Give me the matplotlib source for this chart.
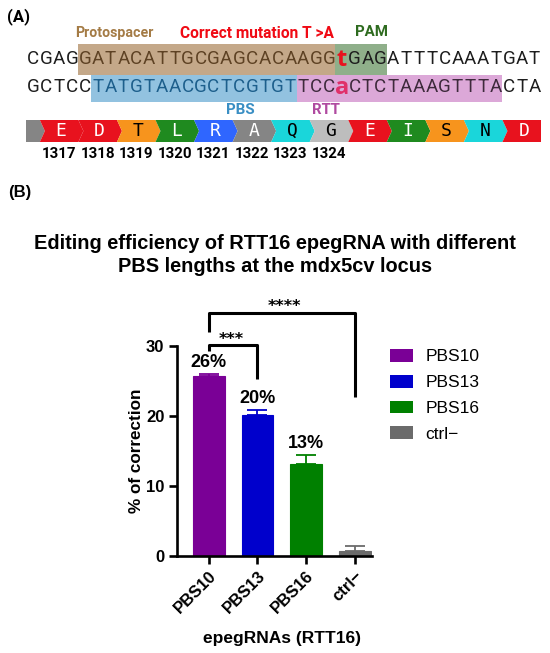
import matplotlib
matplotlib.use("Agg")
import matplotlib.pyplot as plt
from matplotlib.patches import Rectangle, Polygon, Patch

# ---- panel A data ----
top_strand = "CGAGGATACATTGCGAGCACAAGGtGAGATTTCAAATGAT"
bottom_strand = "GCTCCTATGTAACGCTCGTGTTCCaCTCTAAAGTTTACTA"
mutation_index = 24
# highlighted regions (start, end) as nucleotide index
protospacer_span = (4, 24)
pam_span = (24, 28)
pbs_span = (5, 21)
rtt_span = (21, 37)
residues = ["E", "D", "T", "L", "R", "A", "Q", "G", "E", "I", "S", "N", "D"]
residue_numbers = ["1317", "1318", "1319", "1320", "1321", "1322", "1323", "1324"]

# ---- panel B data ----
groups = ["PBS10", "PBS13", "PBS16", "ctrl\u2212"]
means = [25.7, 20.2, 13.2, 0.7]
errs = [0.3, 0.7, 1.2, 0.7]
pct_labels = ["26%", "20%", "13%", ""]
bar_colors = ["#7A0096", "#0000CC", "#008000", "#6B6B6B"]

aa_color = {"E": "#E8121E", "D": "#E8121E", "T": "#F7941D", "S": "#F7941D",
            "L": "#1F8A1F", "I": "#1F8A1F", "R": "#2F66FF", "A": "#858585",
            "Q": "#1AD6DA", "N": "#1AD6DA", "G": "#BDBDBD"}
aa_dark_text = {"T", "Q", "G", "S", "N"}

W, H = 550, 653
fig = plt.figure(figsize=(W / 100, H / 100), dpi=100)

# whole-figure axis in pixel units for panel A
ax0 = fig.add_axes([0, 0, 1, 1])
ax0.set_xlim(0, W)
ax0.set_ylim(H, 0)
ax0.axis("off")

x0 = 27.0
cw = 12.85
y1, y2 = 59, 87


def cx(i):
    return x0 + cw * (i + 0.5)


# boxes
for (a, b), col, yt, yb in [(protospacer_span, "#C4A889", 44, 75),
                            (pam_span, "#8FAF8A", 44, 75),
                            (pbs_span, "#92C2E0", 75, 102),
                            (rtt_span, "#DCA8D8", 75, 102)]:
    ax0.add_patch(Rectangle((x0 + cw * a, yt), cw * (b - a), yb - yt,
                            facecolor=col, edgecolor="none"))

seq_font = dict(family="Roboto", fontsize=13.5, ha="center", va="center")
for i, ch in enumerate(top_strand):
    if i == mutation_index:
        ax0.text(cx(i), y1 + 1, ch, color="#E8121E", fontweight="bold",
                 family="Open Sans", fontsize=17, ha="center", va="center")
        continue
    col = "#5E4224" if protospacer_span[0] <= i < protospacer_span[1] else "#1E1E1E"
    ax0.text(cx(i), y1, ch, color=col, **seq_font)
for i, ch in enumerate(bottom_strand):
    if i == mutation_index:
        ax0.text(cx(i), y2 + 1.5, ch, color="#E0306A", fontweight="bold",
                 family="Open Sans", fontsize=17, ha="center", va="center")
        continue
    if pbs_span[0] <= i < pbs_span[1]:
        col = "#1D5F8C"
    elif rtt_span[0] <= i < rtt_span[1]:
        col = "#3E2A3C"
    else:
        col = "#1E1E1E"
    ax0.text(cx(i), y2, ch, color=col, **seq_font)

lab = dict(family="Roboto", fontweight="bold", ha="center", va="center")
ax0.text(18, 17, "(A)", fontsize=12, color="black", **lab)
ax0.text(114, 33, "Protospacer", fontsize=10.2, color="#A47B45", **lab)
ax0.text(257, 34, "Correct mutation T >A", fontsize=11.2, color="#F00A14", **lab)
ax0.text(371, 32, "PAM", fontsize=10.8, color="#2E6B1F", **lab)
ax0.text(240, 110, "PBS", fontsize=10.8, color="#3A8FC4", **lab)
ax0.text(326, 110, "RTT", fontsize=10.8, color="#B04AA0", **lab)

# amino acid track
yt, yb, ym, d = 120, 142, 131, 5
first_end = x0 + cw
ax0.add_patch(Polygon([(26, yt), (first_end, yt), (first_end + d, ym),
                       (first_end, yb), (26, yb)], closed=True,
                      facecolor="#858585", edgecolor="none"))
for k, aa in enumerate(residues):
    a = x0 + cw * (1 + 3 * k)
    b = a + 3 * cw
    if k == len(residues) - 1:
        pts = [(a, yt), (b, yt), (b, yb), (a, yb), (a + d, ym)]
    else:
        pts = [(a, yt), (b, yt), (b + d, ym), (b, yb), (a, yb), (a + d, ym)]
    ax0.add_patch(Polygon(pts, closed=True, facecolor=aa_color[aa],
                          edgecolor="none", zorder=2 + k * 0.01))
    tc = "black" if aa in aa_dark_text else "white"
    ax0.text((a + b) / 2 + 2, ym, aa, color=tc, family="DejaVu Sans Mono",
             fontsize=13, ha="center", va="center", zorder=3)
for k, num in enumerate(residue_numbers):
    a = x0 + cw * (1 + 3 * k)
    ax0.text(a + 1.5 * cw, 154, num, family="Roboto", fontweight="bold",
             fontsize=10.8, ha="center", va="center")

# ---- panel B ----
ax0.text(20, 193, "(B)", family="Liberation Sans", fontweight="bold",
         fontsize=12, ha="center", va="center")
fig.text(275 / W, 1 - 255 / H,
         "Editing efficiency of RTT16 epegRNA with different\nPBS lengths at the mdx5cv locus",
         family="Liberation Sans", fontweight="bold", fontsize=14.4,
         ha="center", va="center", linespacing=1.25)

left, right, bottom, top = 177, 372, 556, 346
ax = fig.add_axes([left / W, 1 - bottom / H, (right - left) / W, (bottom - top) / H])
xs = list(range(len(groups)))
ax.bar(xs, means, width=0.65, color=bar_colors, edgecolor=bar_colors,
       linewidth=0.8, zorder=2)
for x, m, e, c in zip(xs, means, errs, bar_colors):
    ax.errorbar(x, m, yerr=[[0], [e]], color=c, capsize=7, elinewidth=1.3,
                capthick=1.3, zorder=3)
for x, m, e, t in zip(xs, means, errs, pct_labels):
    if t:
        ax.text(x, m + e + 1.65, t, family="Liberation Sans", fontweight="bold",
                fontsize=13, ha="center", va="center")

ax.set_xlim(-0.65, 3.35)
ax.set_ylim(0, 30)
ax.set_yticks([0, 10, 20, 30])
ax.set_xticks(xs)
ax.set_xticklabels(groups, rotation=45, ha="right", va="top",
                   rotation_mode="anchor")
for s in ["top", "right"]:
    ax.spines[s].set_visible(False)
for s in ["left", "bottom"]:
    ax.spines[s].set_linewidth(1.9)
ax.tick_params(width=1.9, length=6, labelsize=12, pad=3)
for lbl in ax.get_xticklabels() + ax.get_yticklabels():
    lbl.set_fontweight("bold")
    lbl.set_family("Liberation Sans")
ax.set_ylabel("% of correction", family="Liberation Sans", fontweight="bold",
              fontsize=12.3)
ax.yaxis.set_label_coords(-0.17, 0.5)

# significance brackets
bk = dict(color="black", linewidth=2.2, clip_on=False, solid_capstyle="butt")
ax.plot([0, 0, 1, 1], [29.3, 30.1, 30.1, 25.3], **bk)
ax.text(0.47, 30.9, "***", ha="center", va="center", fontsize=11.5,
        fontweight="bold", clip_on=False)
ax.plot([0, 0, 3, 3], [32.0, 34.7, 34.7, 22.7], **bk)
ax.text(1.55, 35.6, "****", ha="center", va="center", fontsize=11.5,
        fontweight="bold", clip_on=False)

fig.text(282 / W, 1 - 638 / H, "epegRNAs (RTT16)", family="Liberation Sans",
         fontweight="bold", fontsize=12.5, ha="center", va="center")

handles = [Patch(facecolor=c, edgecolor="none", label=g)
           for g, c in zip(groups, bar_colors)]
fig.legend(handles=handles, loc="upper left",
           bbox_to_anchor=(390 / W, 1 - 349 / H), frameon=False,
           prop={"family": "Liberation Sans", "size": 12.5},
           handlelength=1.3, handleheight=0.75, handletextpad=0.75,
           labelspacing=0.6, borderpad=0, borderaxespad=0)

fig.savefig("out.png", dpi=100)
